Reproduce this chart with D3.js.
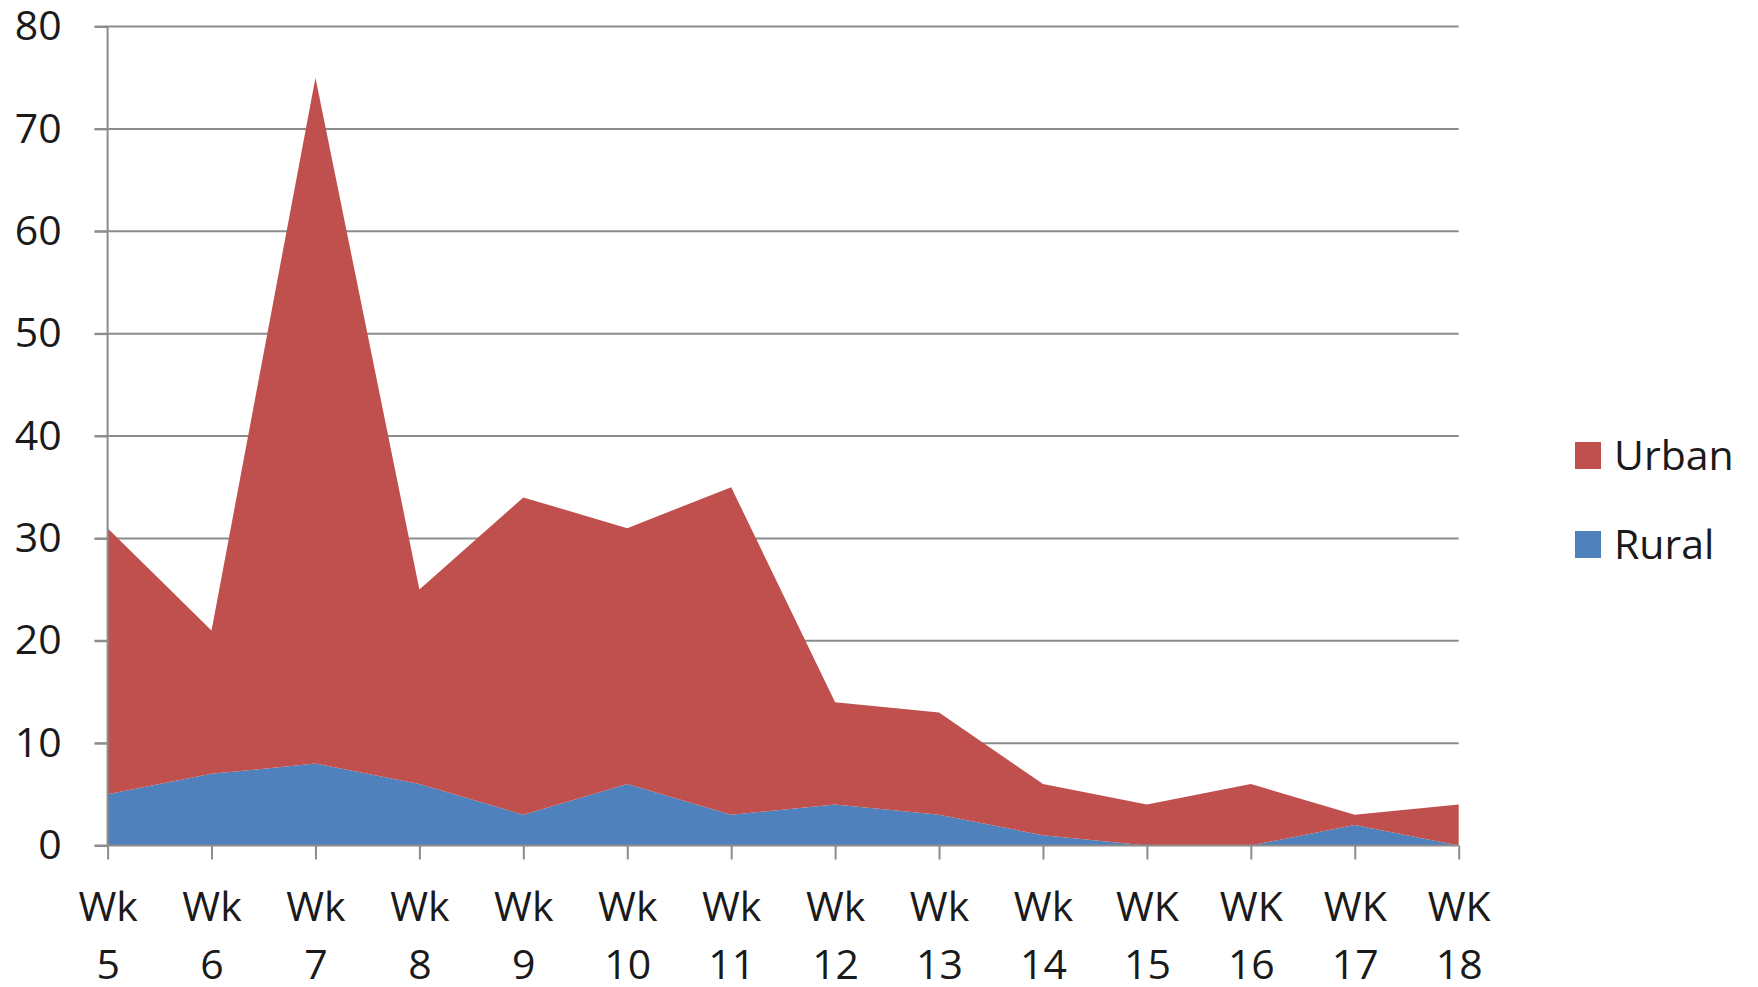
<!DOCTYPE html>
<html>
<head>
<meta charset="utf-8">
<script src="https://cdn.jsdelivr.net/npm/d3@7"></script>
<style>
    body { margin: 0; background: #fff; }
    svg { display: block; font-family: "Open Sans", sans-serif; }
</style>
</head>
<body>
<div id="chart"></div>
<script>
// Data
const weeks = ["Wk 5", "Wk 6", "Wk 7", "Wk 8", "Wk 9", "Wk 10", "Wk 11", "Wk 12", "Wk 13", "Wk 14", "WK 15", "WK 16", "WK 17", "WK 18"];
const rural = [5, 7, 8, 6, 3, 6, 3, 4, 3, 1, 0, 0, 2, 0];
const urban = [26, 14, 67, 19, 31, 25, 32, 10, 10, 5, 4, 6, 1, 4];
const seriesNames = ["Rural", "Urban"];
const yTicks = [0, 10, 20, 30, 40, 50, 60, 70, 80];

const colors = { Rural: "#4F81BD", Urban: "#C0504D" };

const width = 1758;
const height = 987;
const marginLeft = 107.6;
const marginRight = 1758 - 1458.7;
const marginTop = 26.5;
const marginBottom = 987 - 845.5;

const rows = weeks.map((w, i) => ({ week: w, Rural: rural[i], Urban: urban[i] }));

const x = d3
    .scalePoint()
    .domain(weeks)
    .range([marginLeft, width - marginRight]);

const y = d3
    .scaleLinear()
    .domain([0, 80])
    .range([height - marginBottom, marginTop]);

const stacked = d3.stack().keys(seriesNames)(rows);

const svg = d3
    .select("#chart")
    .append("svg")
    .attr("width", width)
    .attr("height", height);

// gridlines
svg.append("g")
    .selectAll("line")
    .data(yTicks.filter((t) => t > 0))
    .enter()
    .append("line")
    .attr("x1", marginLeft - 13)
    .attr("x2", width - marginRight)
    .attr("y1", (d) => y(d))
    .attr("y2", (d) => y(d))
    .attr("stroke", "#8c8c8c")
    .attr("stroke-width", 2);

// stacked areas
const area = d3
    .area()
    .x((d) => x(d.data.week))
    .y0((d) => y(d[0]))
    .y1((d) => y(d[1]));

svg.append("g")
    .selectAll("path")
    .data(stacked)
    .enter()
    .append("path")
    .attr("d", area)
    .attr("fill", (d) => colors[d.key]);

// y axis
svg.append("g")
    .attr("transform", `translate(${marginLeft},0)`)
    .call(d3.axisLeft(y).tickValues(yTicks).tickSize(13).tickPadding(33))
    .call((g) => g.attr("font-family", "Open Sans"))
    .call((g) => g.selectAll(".tick line").attr("stroke", "#8c8c8c").attr("stroke-width", 2))
    .call((g) => g.select(".domain").attr("stroke", "#8c8c8c").attr("stroke-width", 2).attr("d", `M0,${y(80)}V${y(0)}`))
    .call((g) => g.selectAll(".tick text").attr("font-size", 41).attr("fill", "#1a1a1a"));

// x axis
svg.append("g")
    .attr("transform", `translate(0,${y(0)})`)
    .call(d3.axisBottom(x).tickSize(14).tickFormat(""))
    .call((g) => g.attr("font-family", "Open Sans"))
    .call((g) => g.selectAll(".tick line").attr("stroke", "#8c8c8c").attr("stroke-width", 2))
    .call((g) => g.select(".domain").attr("stroke", "#8c8c8c").attr("stroke-width", 2).attr("d", `M${marginLeft - 13},0H${width - marginRight}`))
    .call((g) =>
        g
            .selectAll(".tick")
            .append("text")
            .attr("fill", "#1a1a1a")
            .attr("font-size", 41)
            .attr("text-anchor", "middle")
            .selectAll("tspan")
            .data((d) => d.split(" "))
            .enter()
            .append("tspan")
            .attr("x", 0)
            .attr("y", (d, i) => 75 + i * 58)
            .text((d) => d)
    );

// legend
const legend = svg
    .append("g")
    .selectAll("g")
    .data(["Urban", "Rural"])
    .enter()
    .append("g")
    .attr("transform", (d, i) => `translate(1575,${442 + i * 89})`);

legend.append("rect")
    .attr("width", 26)
    .attr("height", 27)
    .attr("fill", (d) => colors[d]);

legend.append("text")
    .attr("x", 39)
    .attr("y", 13.5)
    .attr("dy", "0.35em")
    .attr("font-size", 41)
    .attr("fill", "#1a1a1a")
    .text((d) => d);
</script>
</body>
</html>
